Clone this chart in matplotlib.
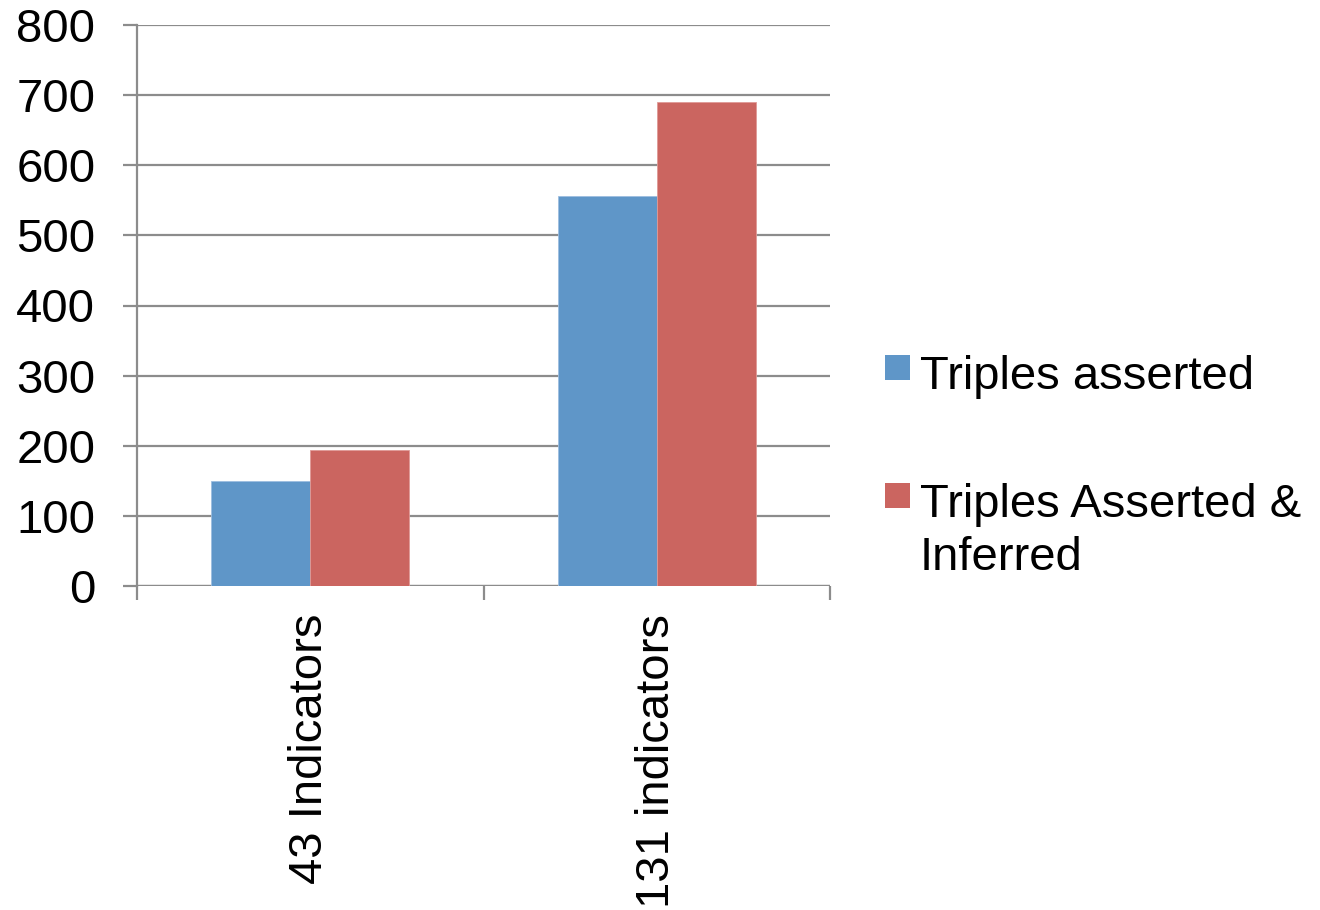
import matplotlib
matplotlib.use("Agg")
import matplotlib.pyplot as plt
from matplotlib.patches import Rectangle
import numpy as np

plt.rcParams['font.family'] = ['Liberation Sans', 'DejaVu Sans']

categories = ["43 Indicators", "131 indicators"]
asserted = [150, 556]
asserted_inferred = [194, 690]
series_names = ["Triples asserted", "Triples Asserted &\nInferred"]
blue = "#5F96C8"
red = "#CB6560"
grid_col = "#8C8C8C"

fig = plt.figure(figsize=(13.2, 9.1), dpi=100)
ax = fig.add_axes([137 / 1320, 1 - 586 / 910, (830 - 137) / 1320, (586 - 25) / 910])

x = np.arange(len(categories))
w = 0.285
ax.bar(x - w / 2, asserted, w, color=blue, edgecolor="#9DBEE0", linewidth=0.6, zorder=3)
ax.bar(x + w / 2, asserted_inferred, w, color=red, edgecolor="#E09A96", linewidth=0.6, zorder=3)

ax.set_xlim(-0.5, len(categories) - 0.5)
ax.set_ylim(0, 800)
ax.set_yticks(np.arange(0, 801, 100))
ax.yaxis.grid(True, color=grid_col, linewidth=1.6, zorder=0)
ax.set_axisbelow(True)

for s in ["top", "right", "bottom"]:
    ax.spines[s].set_visible(False)
ax.spines["left"].set_color(grid_col)
ax.spines["left"].set_linewidth(1.6)
ax.axhline(0, color=grid_col, linewidth=1.6, zorder=1)

fs = 34
ax.tick_params(axis="y", length=10, width=1.6, color=grid_col, pad=20, labelsize=fs)
ax.set_xticks(x)
ax.set_xticklabels(categories, rotation=90, fontsize=fs)
ax.set_xticks(np.arange(-0.5, len(categories)), minor=True)
ax.tick_params(axis="x", which="major", length=0, pad=20)
ax.tick_params(axis="x", which="minor", length=10, width=1.6, color=grid_col)

# legend drawn by hand so the square sits beside the first line of each label
for i, (name, col) in enumerate(zip(series_names, [blue, red])):
    ytop = [355, 483][i]
    fig.patches.append(Rectangle((885 / 1320, 1 - (ytop + 25) / 910), 25 / 1320, 25 / 910,
                                 transform=fig.transFigure, facecolor=col, edgecolor="none"))
    for j, line in enumerate(name.split("\n")):
        base = ytop + 34 + j * 53
        fig.text(920 / 1320, 1 - base / 910, line, fontsize=fs, va="baseline", ha="left")

fig.savefig("out.png", dpi=100)
